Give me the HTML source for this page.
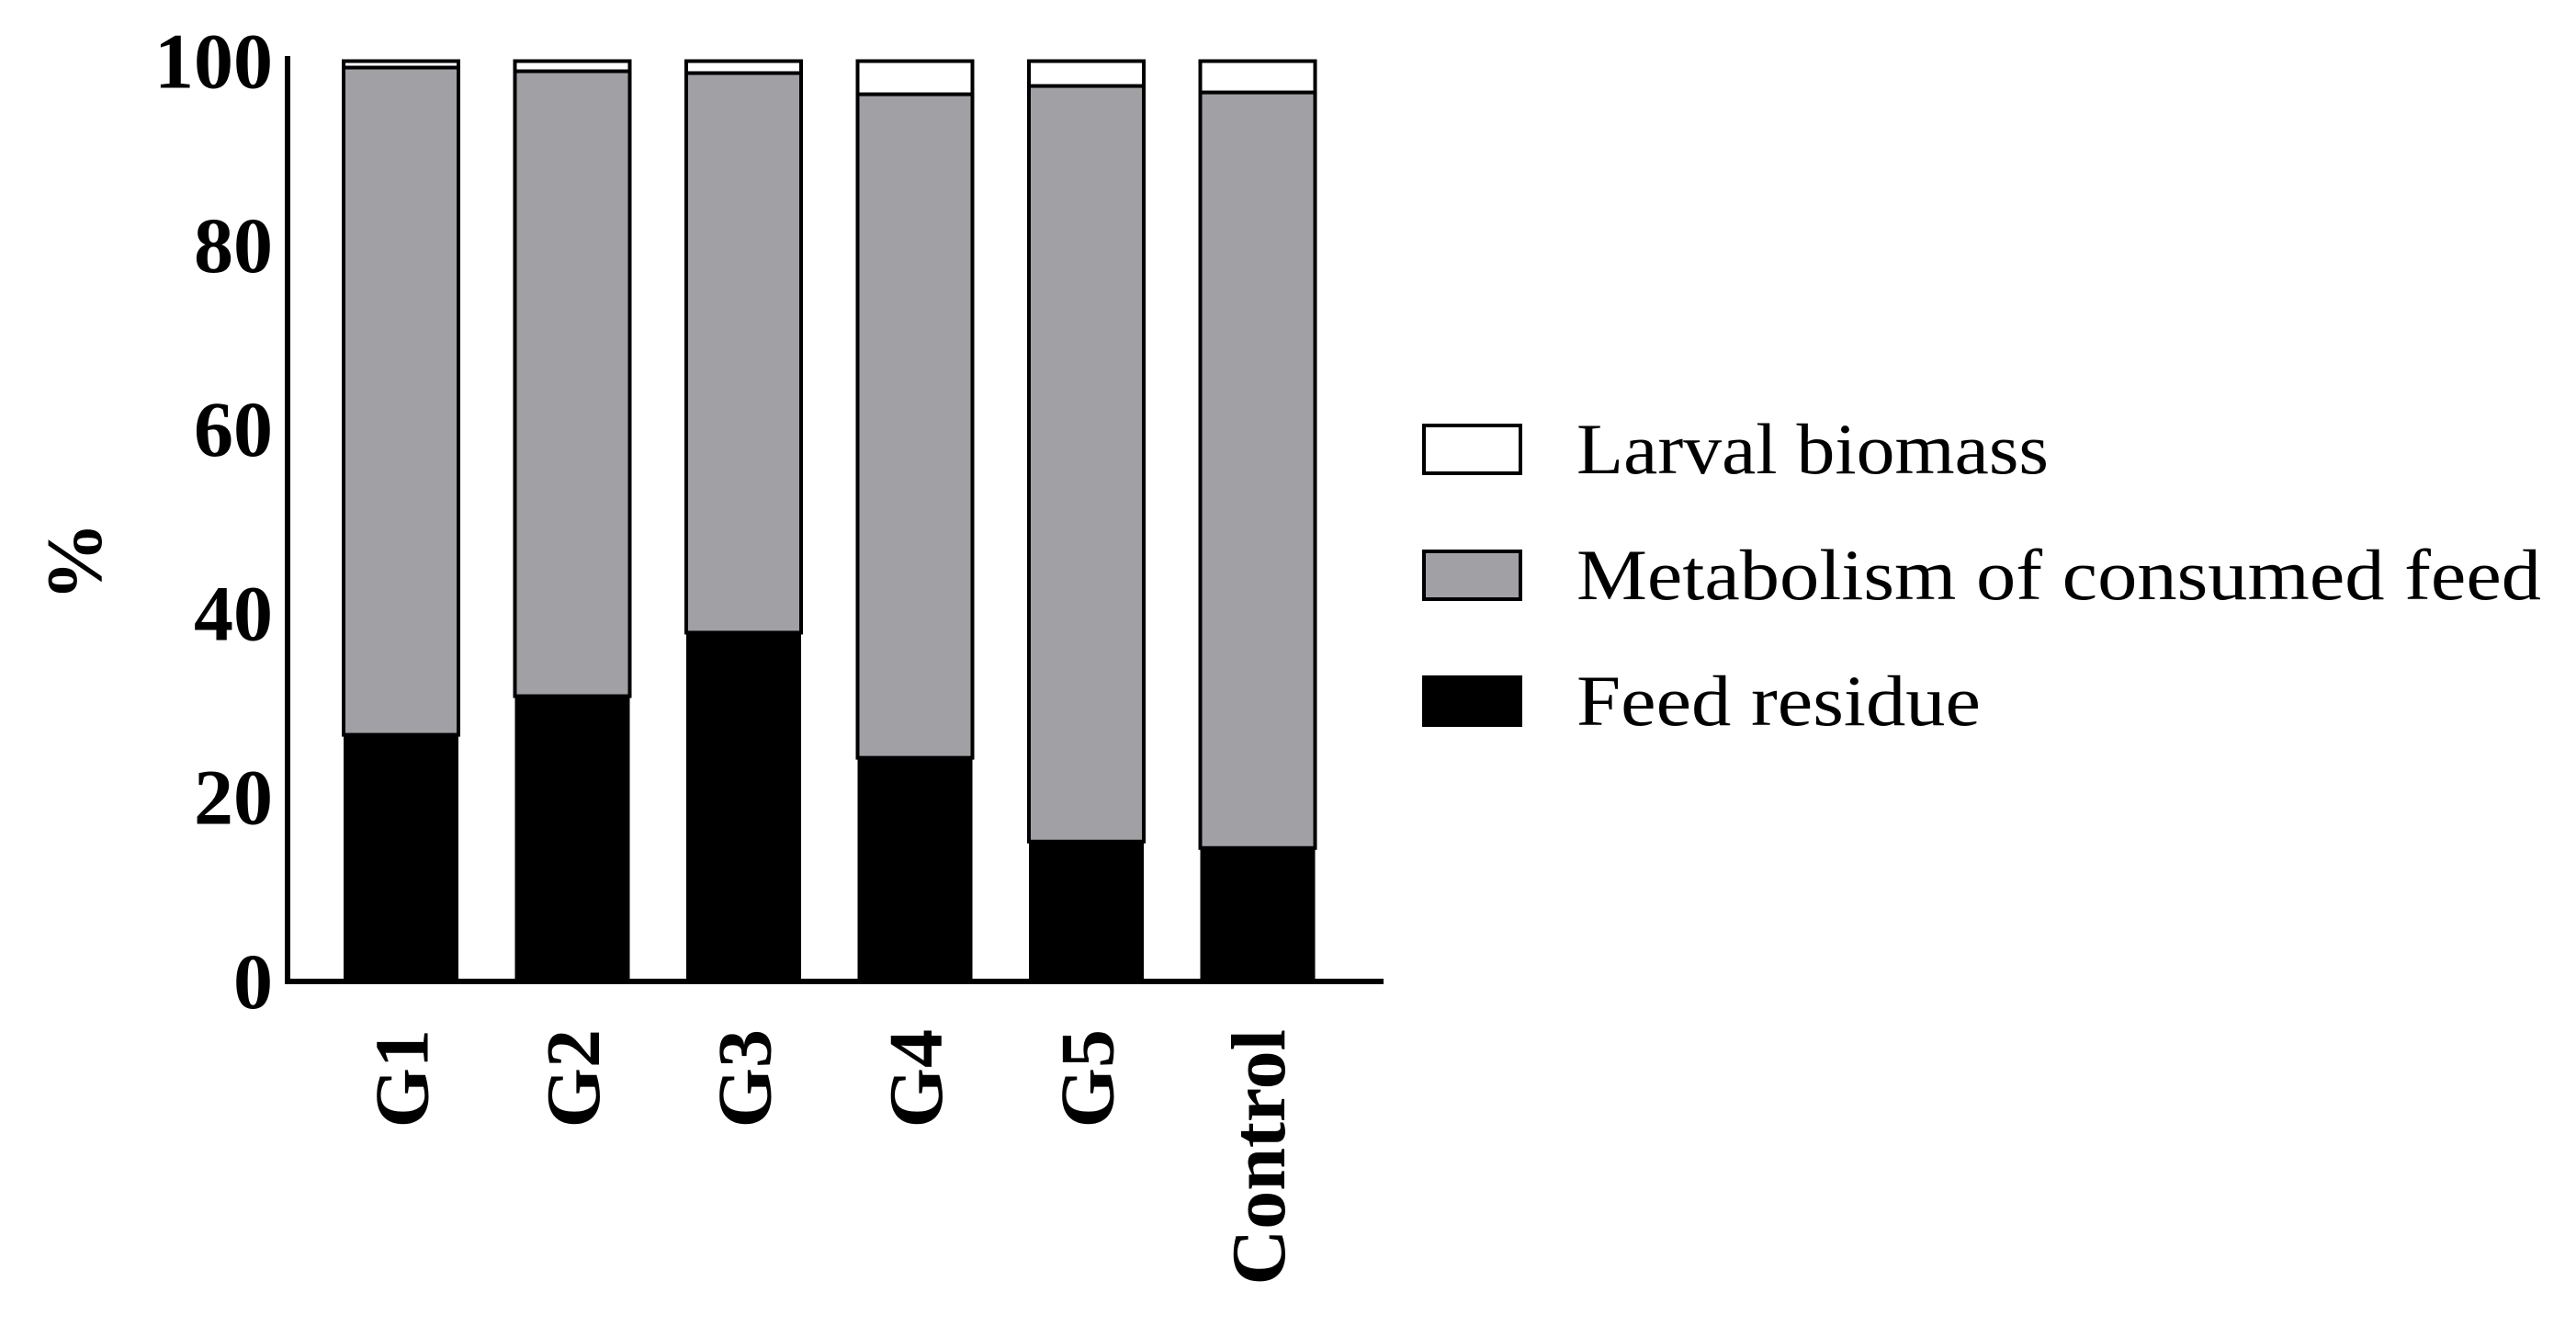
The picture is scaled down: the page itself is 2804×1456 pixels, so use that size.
<!DOCTYPE html>
<html><head><meta charset="utf-8"><style>html,body{margin:0;padding:0;background:#fff;}svg{display:block;}</style></head>
<body>
<svg id="chart" width="2804" height="1456" xmlns="http://www.w3.org/2000/svg" font-family="Liberation Serif, serif"></svg>
<script>
const categories = ["G1","G2","G3","G4","G5","Control"];
const feedResidue = [26.8, 31.0, 37.9, 24.3, 15.2, 14.5];
const metabolism = [72.5, 67.9, 60.8, 72.1, 82.1, 82.1];
const larvalBiomass = [0.7, 1.1, 1.3, 3.6, 2.7, 3.4];
const yTicks = [0, 20, 40, 60, 80, 100];

const svg = document.getElementById('chart');
const NS = 'http://www.w3.org/2000/svg';
const x0 = 313, yBase = 1068, yTop = 66.5;
const y = v => yBase - (yBase - yTop) * v / 100;
const barX = i => 374 + i * 186.5;
const barW = 125;
function mk(tag, attrs, parent) {
  const e = document.createElementNS(NS, tag);
  for (const k in attrs) e.setAttribute(k, attrs[k]);
  (parent || svg).appendChild(e);
  return e;
}
categories.forEach((c, i) => {
  const g = mk('g', {});
  
  
  const b0 = feedResidue[i], b1 = b0 + metabolism[i], b2 = b1 + larvalBiomass[i];
  const r1 = mk('rect', {x: barX(i), y: y(b0), width: barW, height: yBase - y(b0), fill: '#000'}, g);
  
  
  const r2 = mk('rect', {x: barX(i), y: y(b1), width: barW, height: y(b0) - y(b1), fill: '#a1a0a5', stroke: '#000', 'stroke-width': 4}, g);
  
  
  const r3 = mk('rect', {x: barX(i), y: y(b2), width: barW, height: y(b1) - y(b2), fill: '#fff', stroke: '#000', 'stroke-width': 4}, g);
  
  
  const t = mk('text', {x: 0, y: 0, 'font-size': 84, 'font-weight': 'bold', 'text-anchor': 'end', transform: `translate(${barX(i) + barW / 2 + 29},1120) rotate(-90)`}, svg);
  t.textContent = c;
  
  
});
const ya = mk('line', {x1: x0, y1: 61, x2: x0, y2: yBase + 3, stroke: '#000', 'stroke-width': 6});


const xa = mk('line', {x1: x0 - 3, y1: yBase, x2: 1506, y2: yBase, stroke: '#000', 'stroke-width': 6});


yTicks.forEach(v => {
  const t = mk('text', {x: 297, y: y(v) + 29, 'font-size': 86, 'font-weight': 'bold', 'text-anchor': 'end'});
  t.textContent = v;
  
  
});
const yt = mk('text', {x: 0, y: 0, 'font-size': 86, 'font-weight': 'bold', 'text-anchor': 'middle', transform: 'translate(110,611) rotate(-90)'});
yt.textContent = '%';


const legend = [["Larval biomass", '#fff', 514], ["Metabolism of consumed feed", '#a1a0a5', 1050], ["Feed residue", '#000', 440]];
legend.forEach((l, i) => {
  const cy = 489 + i * 137;
  const g = mk('g', {});
  
  
  mk('rect', {x: 1550, y: cy - 26, width: 105, height: 52, fill: l[1], stroke: '#000', 'stroke-width': 4}, g);
  const t = mk('text', {x: 1716, y: cy + 26, 'font-size': 78, textLength: l[2], lengthAdjust: 'spacingAndGlyphs'}, g);
  t.textContent = l[0];
});
</script>
</body></html>
